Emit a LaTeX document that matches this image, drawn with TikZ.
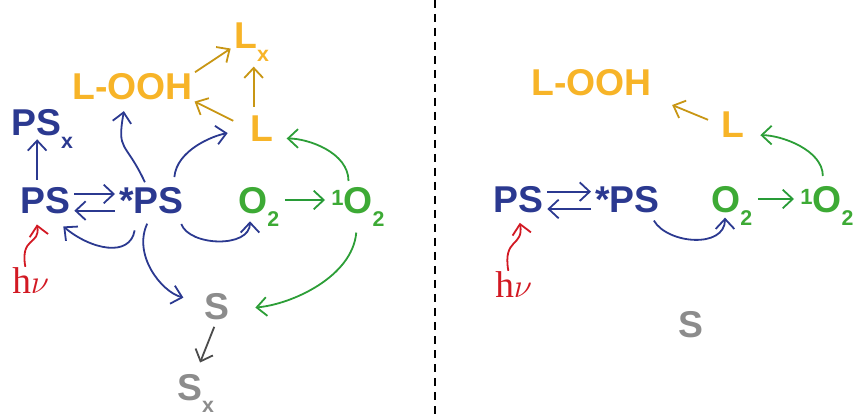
\documentclass[tikz,border=0pt]{standalone}
\usepackage{fontspec}
\setmainfont{Liberation Sans}
\newfontfamily\hvfont{Liberation Serif}
\usetikzlibrary{arrows.meta}

\definecolor{psblue}{RGB}{43,57,144}
\definecolor{lipid}{RGB}{247,180,40}
\definecolor{lipidarrow}{RGB}{200,150,20}
\definecolor{oxy}{RGB}{61,170,53}
\definecolor{oxyarrow}{RGB}{40,155,55}
\definecolor{quencher}{RGB}{140,140,140}
\definecolor{quencharrow}{RGB}{75,75,75}
\definecolor{photon}{RGB}{210,25,35}

\newcommand{\lo}[1]{\smash{\raisebox{-9.5pt}{\fontsize{16}{16}\selectfont #1}}}
\newcommand{\hi}[1]{\raisebox{6pt}{\fontsize{16.5}{16}\selectfont #1}}

\tikzset{
  species/.style={inner sep=0pt, anchor=base west, font=\bfseries\fontsize{28}{30}\selectfont},
  photonlabel/.style={inner sep=0pt, anchor=base west, text=photon, font=\hvfont\fontsize{28}{30}\selectfont},
  reac/.style={-{Straight Barb[length=7.5pt,width=14pt]}, line width=1.35pt},
}

\begin{document}
\begin{tikzpicture}[x=0.75pt, y=0.75pt]
\useasboundingbox (0,0) rectangle (859,-416);

% Linker paneel: soorten
\node[species, text=psblue] (aPS) at (20,-214) {PS};
\node[species, text=psblue] (aSPS) at (119,-214) {*PS};
\node[species, text=oxy] (aO) at (238,-214) {O\lo{2}};
\node[species, text=oxy] (aSO) at (331,-214) {\hi{1}O\lo{2}};
\node[species, text=psblue] (aPSx) at (11,-136) {PS\lo{x}};
\node[species, text=lipid] (aLOOH) at (72,-100) {L-OOH};
\node[species, text=lipid] (aLx) at (234,-49) {L\lo{x}};
\node[species, text=lipid] (aL) at (250,-142) {L};
\node[species, text=quencher] (aS) at (204,-320) {S};
\node[species, text=quencher] (aSx) at (177,-400) {S\lo{x}};
\node[photonlabel] (aHv) at (12,-293) {h$\nu$};

% Linker paneel: pijlen
\draw[reac, psblue, shorten <=3pt, shorten >=3pt]
    ([yshift=15pt]aPS.base east) -- ([yshift=15pt]aSPS.base west);
\draw[reac, psblue, shorten <=3pt, shorten >=3pt]
    ([yshift=2.5pt]aSPS.base west) -- ([yshift=2.5pt]aPS.base east);
\draw[reac, psblue, shorten <=6pt, shorten >=2pt]
    ([xshift=-6pt]aPS.north) -- ([xshift=-6pt]aPS.north |- aPSx.south);
\draw[reac, psblue, shorten <=12pt, shorten >=6pt, looseness=1.4]
    ([xshift=-10.5pt]aSPS.south) to[out=-100, in=-40] ([xshift=9pt,yshift=-5pt]aPS.south);
\draw[reac, psblue, shorten <=7.5pt, shorten >=5pt, looseness=1.2]
    ([xshift=-4.5pt]aSPS.south east) to[out=-70, in=-90] ([xshift=9pt]aO.south west);
\draw[reac, psblue, shorten <=7.5pt, shorten >=16pt, looseness=1.1]
    (aSPS.south) to[out=-115, in=165] ([yshift=3pt]aS.west);
\draw[reac, psblue, shorten <=4.5pt, shorten >=8pt, looseness=1.5]
    ([xshift=-3pt]aSPS.north) to[out=115, in=-100] ([xshift=-5pt]aLOOH.south);
\draw[reac, psblue, shorten <=8pt, shorten >=17pt]
    ([xshift=16.5pt]aSPS.north) to[out=85, in=190] (aL.west);

\draw[reac, lipidarrow, shorten <=14pt, shorten >=1.5pt] (aL.west) -- (aLOOH.south east);
\draw[reac, lipidarrow, shorten <=7pt, shorten >=13pt]
    ([xshift=-6pt]aL.north) -- ([xshift=-6pt]aL.north |- aLx.south);
\draw[reac, lipidarrow, shorten <=2pt, shorten >=3pt]
    (aLOOH.north east) -- ([yshift=2pt]aLx.base west);

\draw[reac, oxyarrow, shorten <=4pt, shorten >=4.5pt]
    ([yshift=10.5pt]aO.base east) -- ([yshift=10.5pt]aSO.base west);
\draw[reac, oxyarrow!80!oxy, shorten <=5pt, shorten >=10pt]
    ([xshift=-7pt]aSO.north) to[out=90, in=0] ([yshift=-7pt]aL.east);
\draw[reac, oxyarrow!80!oxy, shorten <=13.5pt, shorten >=19.5pt]
    (aSO.south) to[out=-95, in=5] ([yshift=-2pt]aS.east);

\draw[reac, quencharrow, shorten <=5pt, shorten >=9pt] (aS.south) -- (aSx.north);

\draw[reac, photon, shorten >=7.5pt, looseness=1.5]
    ([xshift=-4pt]aHv.north) to[out=100, in=-80] ([xshift=-7.5pt]aPS.south);

% Scheidingslijn
\draw[line width=1.1pt, dash pattern=on 6pt off 4.5pt] (435,0) -- (435,-416);

% Rechter paneel: soorten
\node[species, text=lipid] (bLOOH) at (531,-96) {L-OOH};
\node[species, text=lipid] (bL) at (721,-138) {L};
\node[species, text=psblue] (bPS) at (493,-213) {PS};
\node[species, text=psblue] (bSPS) at (595,-213) {*PS};
\node[species, text=oxy] (bO) at (711,-213) {O\lo{2}};
\node[species, text=oxy] (bSO) at (800,-213) {\hi{1}O\lo{2}};
\node[species, text=quencher] (bS) at (678,-337) {S};
\node[photonlabel] (bHv) at (495,-297) {h$\nu$};

% Rechter paneel: pijlen
\draw[reac, psblue, shorten <=3pt, shorten >=3pt]
    ([yshift=16pt]bPS.base east) -- ([yshift=16pt]bSPS.base west);
\draw[reac, psblue, shorten <=3pt, shorten >=3pt]
    ([yshift=3pt]bSPS.base west) -- ([yshift=3pt]bPS.base east);
\draw[reac, psblue, shorten <=6pt, shorten >=3pt, looseness=1.2]
    ([xshift=-7.5pt]bSPS.south east) to[out=-60, in=-90] ([xshift=10.5pt]bO.south west);
\draw[reac, lipidarrow, shorten <=10.5pt, shorten >=16.5pt] (bL.west) -- (bLOOH.south east);
\draw[reac, oxyarrow, shorten <=4pt, shorten >=4.5pt]
    ([yshift=10.5pt]bO.base east) -- ([yshift=10.5pt]bSO.base west);
\draw[reac, oxyarrow!80!oxy, shorten <=8pt, shorten >=12pt]
    ([xshift=-3pt]bSO.north) to[out=90, in=0] ([yshift=-7.5pt]bL.east);
\draw[reac, photon, shorten >=7pt, looseness=1.5]
    ([xshift=-4pt]bHv.north) to[out=100, in=-80] (bPS.south);
\end{tikzpicture}
\end{document}
